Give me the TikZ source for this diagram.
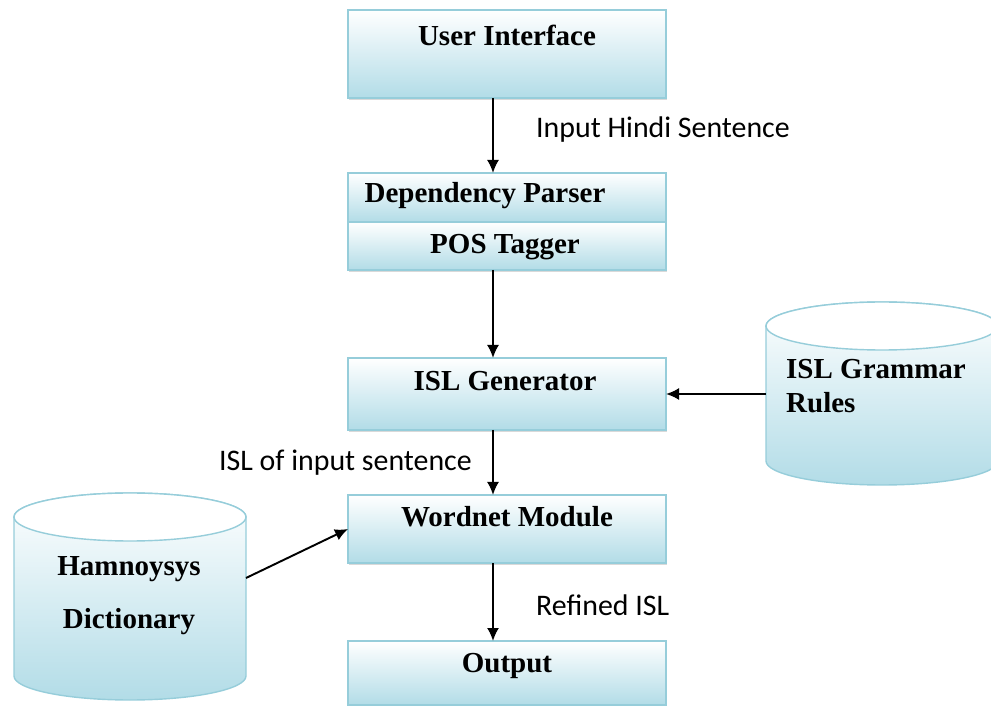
\documentclass[tikz,border=0pt]{standalone}
\usepackage{fontspec}
\setmainfont{Liberation Serif}
\newfontfamily\lblfont{Carlito}
\usetikzlibrary{shapes,arrows,arrows.meta,positioning,shadows}
\definecolor{boxblue}{RGB}{178,220,231}
\definecolor{boxline}{RGB}{150,205,218}

\begin{document}
\begin{tikzpicture}[
    node distance=1.5cm,
    box/.style={rectangle, draw=boxline, thick, outer sep=0pt, top color=white, bottom color=boxblue, minimum width=6.36cm, drop shadow={opacity=0.3, shadow xshift=0.5pt, shadow yshift=-1.2pt}},
    dbarea/.style={rectangle, minimum width=4.64cm, inner sep=0pt, outer sep=0pt},
    dbline/.style={draw=boxline, thick},
    txt/.style={font=\fontsize{16.5}{19.5}\selectfont\bfseries},
    lbl/.style={font=\lblfont\fontsize{17}{20}\selectfont, anchor=west},
    arrow/.style={-{Latex[length=2.6mm,width=2.4mm]}, line width=1.1pt}
]
    \useasboundingbox (0,0) rectangle (19.82,-14.12);

    % main chain
    \node[box, minimum height=1.76cm] (ui) at (10.14,-1.08) {};
    \node[box, minimum height=0.98cm, below=of ui] (dp) {};
    \node[box, minimum height=0.96cm, below=0cm of dp] (pos) {};
    \node[box, minimum height=1.44cm, below=1.76cm of pos] (isl) {};
    \node[box, minimum height=1.36cm, below=1.3cm of isl] (wn) {};
    \node[box, minimum height=1.28cm, below=1.56cm of wn] (out) {};

    \node[txt] (uitxt) at (10.14,-0.7) {User Interface};
    \node[txt] (dptxt) at (9.7,-3.92) {Dependency Parser};
    \node[txt] (postxt) at (10.1,-4.95) {POS Tagger};
    \node[txt] (isltxt) at (10.1,-7.62) {ISL Generator};
    \node[txt] (wntxt) at (10.14,-10.34) {Wordnet Module};
    \node[txt] (outtxt) at (10.14,-13.32) {Output};

    % databases
    \node[dbarea, minimum height=3.66cm] (gram) at (17.64,-7.87) {};
    \node[dbarea, minimum height=4.14cm] (ham) at (2.6,-11.93) {};
    \foreach \n in {gram,ham} {
        \draw[dbline, top color=white, bottom color=boxblue]
            ([yshift=-0.48cm]\n.north west) -- ([yshift=0.48cm]\n.south west)
            arc[start angle=180, end angle=360, x radius=2.32cm, y radius=0.48cm]
            -- ([yshift=-0.48cm]\n.north east)
            arc[start angle=0, end angle=180, x radius=2.32cm, y radius=0.48cm] -- cycle;
        \draw[dbline, fill=white] ([yshift=-0.48cm]\n.north) ellipse [x radius=2.32cm, y radius=0.48cm];
    }
    \node[txt, align=left, anchor=west] (gramtxt) at (15.6,-7.72) {ISL Grammar\\Rules};
    \node[txt, align=center] (hamtxt) at (2.58,-11.92) {Hamnoysys\\[0.37cm]Dictionary};

    \draw[arrow] ([xshift=-0.28cm]ui.south) -- ([xshift=-0.28cm]dp.north);
    \draw[arrow] ([xshift=-0.28cm]pos.south) -- ([xshift=-0.28cm]isl.north);
    \draw[arrow] ([xshift=-0.28cm]isl.south) -- ([xshift=-0.28cm]wn.north);
    \draw[arrow] ([xshift=-0.28cm]wn.south) -- ([xshift=-0.28cm]out.north);
    \draw[arrow] (isl -| gram.west) -- (isl.east);
    \draw[arrow] ([yshift=0.37cm]ham.east) -- (wn.west);

    \node[lbl] (inlbl) at (10.6,-2.6) {Input Hindi Sentence};
    \node[lbl, anchor=east] (isllbl) at (9.56,-9.26) {ISL of input sentence};
    \node[lbl] (reflbl) at (10.6,-12.1) {Refined ISL};
\end{tikzpicture}
\end{document}
